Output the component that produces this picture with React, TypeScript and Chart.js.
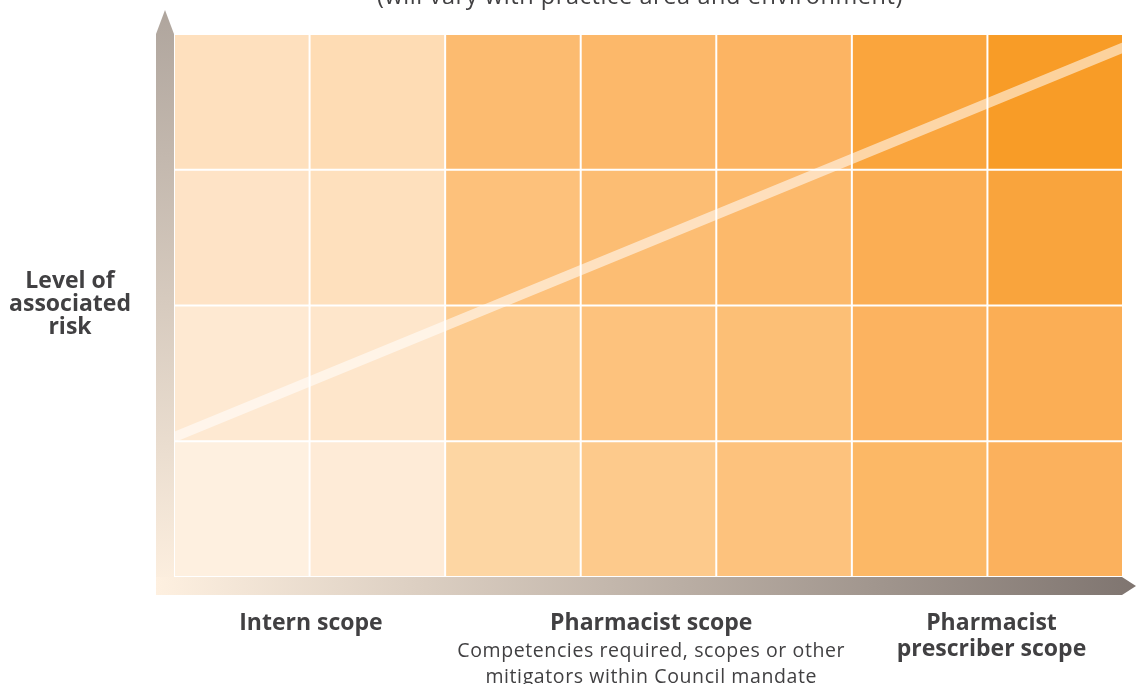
import React, { useEffect, useRef } from "react";
import { Chart, registerables } from "chart.js";

Chart.register(...registerables);

const columns = ["c1", "c2", "c3", "c4", "c5", "c6", "c7"];
// rows from bottom (lowest risk) to top (highest risk)
const rowColors: string[][] = [
  ["#FEF0E0", "#FEEBD7", "#FDD6A3", "#FDCA8C", "#FDC27D", "#FCB866", "#FBB15D"],
  ["#FEE9D2", "#FEE6CB", "#FDCB8E", "#FDC27D", "#FCBF76", "#FCB360", "#FBAE55"],
  ["#FEE3C6", "#FEE0BD", "#FDC17B", "#FCBD73", "#FCB96B", "#FBAE54", "#F9A43D"],
  ["#FEE0BE", "#FEDCB4", "#FCBB70", "#FCB86A", "#FCB463", "#FAA53D", "#F89C27"],
];
const cellValues = [1, 1, 1, 1, 1, 1, 1];
const trendX = [0, 7];
const trendY = [1.03, 3.9];

const topNote = "(will vary with practice area and environment)";
const yTitle = ["Level of", "associated", "risk"];
const scopeTitles = [["Intern scope"], ["Pharmacist scope"], ["Pharmacist", "prescriber scope"]];
const scopeSub = ["", "Competencies required, scopes or other\nmitigators within Council mandate", ""];
const scopeCenters = [1.01, 3.52, 6.03]; // in column units (0..7)

const FONT = "'Open Sans', 'Noto Sans', sans-serif";
const TEXT = "#414042";

const decorPlugin = {
  id: "decor",
  afterDraw(chart: any) {
    const ctx: any = chart.ctx;
    const a = chart.chartArea;
    const barW = 18;
    const x0 = a.left - barW;
    const yB = a.bottom + barW;
    ctx.save();
    // vertical arrow
    let g = ctx.createLinearGradient(0, yB, 0, 10);
    g.addColorStop(0, "#FEF0E0");
    g.addColorStop(1, "#AFA59D");
    ctx.fillStyle = g;
    ctx.beginPath();
    ctx.moveTo(x0, yB);
    ctx.lineTo(x0, a.top);
    ctx.lineTo(x0 + barW / 2, 10);
    ctx.lineTo(a.left, a.top);
    ctx.lineTo(a.left, yB);
    ctx.closePath();
    ctx.fill();
    // horizontal arrow
    g = ctx.createLinearGradient(x0, 0, 1136, 0);
    g.addColorStop(0, "#FEF0E0");
    g.addColorStop(1, "#7F7570");
    ctx.fillStyle = g;
    ctx.beginPath();
    ctx.moveTo(x0, a.bottom);
    ctx.lineTo(a.right - 1, a.bottom);
    ctx.lineTo(1136, a.bottom + barW / 2);
    ctx.lineTo(a.right - 1, yB);
    ctx.lineTo(x0, yB);
    ctx.closePath();
    ctx.fill();

    // texts
    ctx.fillStyle = TEXT;
    ctx.textAlign = "center";
    ctx.textBaseline = "alphabetic";
    ctx.letterSpacing = "0.6px";
    ctx.font = `400 23.5px ${FONT}`;
    ctx.fillText(topNote, 640, 4);

    ctx.letterSpacing = "0px";
    ctx.font = `700 23px ${FONT}`;
    yTitle.forEach((t, i) => ctx.fillText(t, 70, 288 + i * 23));

    const colW = (a.right - a.left) / 7;
    scopeTitles.forEach((lines, i) => {
      const cx = a.left + scopeCenters[i] * colW;
      ctx.letterSpacing = "0px";
      ctx.font = `700 23px ${FONT}`;
      lines.forEach((t, j) => ctx.fillText(t, cx, 630 + j * 26));
      if (scopeSub[i]) {
        ctx.letterSpacing = "0.6px";
        ctx.font = `400 19.5px ${FONT}`;
        scopeSub[i].split("\n").forEach((t, j) => ctx.fillText(t, cx, 657 + j * 26));
      }
    });
    ctx.restore();
  },
};

export default function App() {
  const ref = useRef<HTMLCanvasElement | null>(null);
  useEffect(() => {
    if (!ref.current) return;
    const barSets = rowColors.map((colors, r) => ({
      type: "bar" as const,
      label: "row" + r,
      data: cellValues,
      backgroundColor: colors,
      borderColor: "#FFFFFF",
      borderWidth: 1,
      borderSkipped: false,
      inflateAmount: 0,
      barPercentage: 1,
      categoryPercentage: 1,
      grouped: false,
      stack: "grid",
      xAxisID: "x",
      yAxisID: "y",
      order: 2,
    }));
    const chart = new Chart(ref.current, {
      type: "bar",
      data: {
        labels: columns,
        datasets: [
          ...barSets,
          {
            type: "line" as const,
            label: "trend",
            data: trendX.map((x, i) => ({ x, y: trendY[i] })),
            borderColor: "rgba(255,255,255,0.55)",
            borderWidth: 10,
            borderCapStyle: "square",
            pointRadius: 0,
            tension: 0,
            clip: 0,
            xAxisID: "x2",
            yAxisID: "y2",
            order: 0,
          } as any,
        ],
      },
      options: {
        animation: false,
        responsive: false,
        devicePixelRatio: 1,
        events: [],
        layout: { padding: { left: 174, right: 13, top: 34, bottom: 107 } },
        plugins: { legend: { display: false }, tooltip: { enabled: false }, title: { display: false } },
        scales: {
          x: { display: false, stacked: true },
          y: { display: false, stacked: true, min: 0, max: 4 },
          x2: { type: "linear", display: false, min: 0, max: 7, offset: false },
          y2: { type: "linear", display: false, min: 0, max: 4, offset: false },
        },
      },
      plugins: [decorPlugin],
    });
    return () => chart.destroy();
  }, []);
  return (
    <div style={{ position: "absolute", left: 0, top: 0, width: 1136, height: 684, background: "#fff" }}>
      <canvas ref={ref} width={1136} height={684} style={{ display: "block" }} />
    </div>
  );
}
